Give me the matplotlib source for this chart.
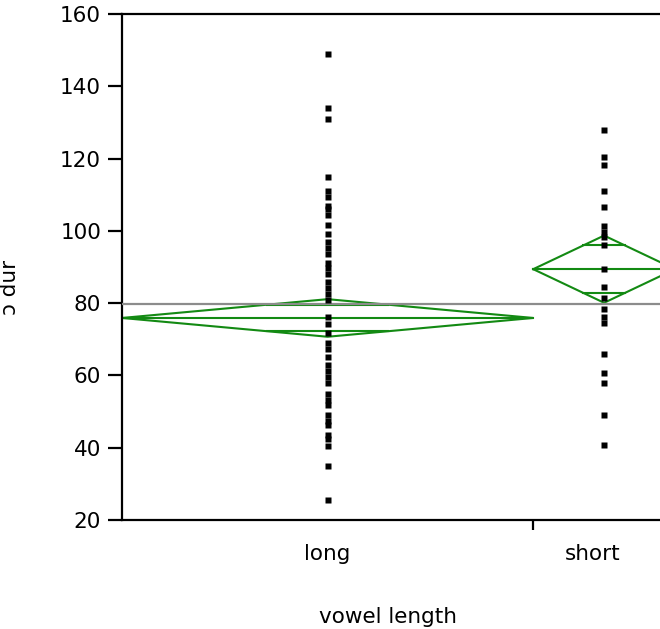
import numpy as np
import matplotlib.pyplot as plt
from matplotlib.ticker import FixedLocator

# data
groups = ["long", "short"]
group_n = [87, 30]  # diamond widths follow group size

long_dur = [149, 134, 131, 115, 111, 109.5, 107, 106, 104.5, 101.5, 99.1,
            96.9, 95.3, 93.6, 91.1, 89.6, 88.1, 85.9, 84.2, 82.5, 80.9,
            76.2, 74.2, 71.7, 69.0, 67.3, 65.2, 62.9, 61.2, 59.6, 57.9,
            54.9, 53.2, 51.8, 49.1, 47.5, 46.3, 43.4, 42.3, 40.4, 35.0, 25.4]
short_dur = [128, 120.5, 118.2, 111.0, 106.6, 101.4, 99.7, 98.2, 96.1, 89.5,
             84.5, 81.4, 78.4, 76.2, 74.6, 65.9, 60.7, 57.9, 49.1, 40.8]

group_mean = [75.9, 89.4]
group_ci = [5.2, 9.3]  # half width of 95% interval
grand_mean = 79.8

GREEN = "#138a13"
FS = 15.5

fig = plt.figure(figsize=(6.6, 6.29), dpi=100)
ax = fig.add_axes([122 / 660, 109 / 629, 553 / 660, 506 / 629])

edges = np.concatenate([[0], np.cumsum(group_n)])
centers = (edges[:-1] + edges[1:]) / 2

ax.axhline(grand_mean, color="#8c8c8c", lw=1.6, zorder=3)

for i, (m, ci) in enumerate(zip(group_mean, group_ci)):
    x0, x1, xc = edges[i], edges[i + 1], centers[i]
    ax.plot([x0, xc, x1, xc, x0], [m, m + ci, m, m - ci, m],
            color=GREEN, lw=1.5, zorder=2, solid_joinstyle="miter")
    ax.plot([x0, x1], [m, m], color=GREEN, lw=1.5, zorder=2)
    off = ci / np.sqrt(2)
    hw = (x1 - x0) / 2 * (1 - 1 / np.sqrt(2))
    for yy in (m + off, m - off):
        ax.plot([xc - hw, xc + hw], [yy, yy], color=GREEN, lw=1.5, zorder=2)

for xc, vals in zip(centers, [long_dur, short_dur]):
    ax.plot(np.full(len(vals), xc), vals, "s", color="black", ms=4.3,
            mec="none", zorder=4)

ax.set_xlim(0, edges[-1])
ax.set_ylim(20, 160)
ax.set_yticks(np.arange(20, 161, 20))

# category labels; "short" sits in the middle of its visible part
label_pos = [centers[0], 99.6]
ax.xaxis.set_major_locator(FixedLocator(label_pos))
ax.set_xticklabels(groups)
ax.xaxis.set_minor_locator(FixedLocator([edges[1]]))
ax.tick_params(axis="x", which="major", length=0, pad=17, labelsize=FS)
ax.tick_params(axis="x", which="minor", length=7, width=1.6, direction="out")
ax.tick_params(axis="y", length=10, width=1.6, pad=5, labelsize=FS)

for side in ["left", "bottom", "top"]:
    ax.spines[side].set_linewidth(1.6)
ax.spines["right"].set_visible(False)

ax.set_ylabel("ɔ dur", fontsize=FS)
ax.yaxis.set_label_coords(-0.184, 0.46)
fig.text(388 / 660, 1 - 617 / 629, "vowel length", ha="center", va="center",
         fontsize=FS)

fig.savefig("out.png", dpi=100)
